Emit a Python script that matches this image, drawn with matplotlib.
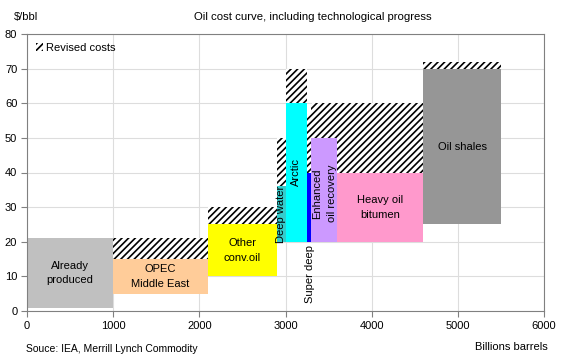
import matplotlib
matplotlib.use("Agg")
import matplotlib.pyplot as plt
import matplotlib.patches as patches

plt.rcParams['font.family'] = ['Liberation Sans', 'DejaVu Sans']
plt.rcParams['hatch.linewidth'] = 1.2
plt.rcParams['hatch.color'] = 'black'

# oil cost curve data (billions barrels, $/bbl)
names = ['Already\nproduced', 'OPEC\nMiddle East', 'Other\nconv.oil', 'Deep water', 'Arctic',
         'Super deep', 'Enhanced\noil recovery', 'Heavy oil\nbitumen', 'Oil shales']
x_start = [0, 1000, 2100, 2900, 3000, 3250, 3300, 3600, 4600]
x_end = [1000, 2100, 2900, 3000, 3250, 3300, 3600, 4600, 5500]
cost_low = [1, 5, 10, 20, 20, 20, 20, 20, 25]
cost_high = [21, 15, 25, 36, 60, 40, 50, 40, 70]
revised_high = [21, 21, 30, 50, 70, 57, 60, 60, 72]
colors = ['#C0C0C0', '#FFCC99', '#FFFF00', '#33CCCC', '#00FFFF', '#0000FF', '#CC99FF', '#FF99CC', '#969696']

x_ticks = [0, 1000, 2000, 3000, 4000, 5000, 6000]
y_ticks = [0, 10, 20, 30, 40, 50, 60, 70, 80]

fig = plt.figure(figsize=(5.63, 3.63), dpi=100)
ax = fig.add_axes([27/563, 1-311/363, 517/563, 277/363])

widths = [e - s for s, e in zip(x_start, x_end)]
heights = [h - l for l, h in zip(cost_low, cost_high)]
rev_heights = [r - h for h, r in zip(cost_high, revised_high)]

ax.bar(x_start, heights, width=widths, bottom=cost_low, align='edge',
       color=colors, edgecolor='none', zorder=2)
ax.bar(x_start, rev_heights, width=widths, bottom=cost_high, align='edge',
       color='white', edgecolor='black', linewidth=0, hatch='/////', zorder=2)

# labels
fs = 8
for i, name in enumerate(names):
    cx = (x_start[i] + x_end[i]) / 2
    cy = (cost_low[i] + cost_high[i]) / 2
    if name == 'Deep water':
        ax.text(cx, cy, name, rotation=90, ha='center', va='center', fontsize=fs, zorder=3)
    elif name == 'Arctic':
        ax.text(cx, 40, name, rotation=90, ha='center', va='center', fontsize=fs, zorder=3)
    elif name == 'Super deep':
        ax.text(cx + 10, cost_low[i] - 1, name, rotation=90, ha='center', va='top', fontsize=fs, zorder=3)
    elif name.startswith('Enhanced'):
        ax.text(cx, 34, name, rotation=90, ha='center', va='center', fontsize=fs, zorder=3,
                multialignment='center', linespacing=1.6)
    else:
        ax.text(cx, cy, name, ha='center', va='center', fontsize=fs, zorder=3,
                multialignment='center', linespacing=1.6)

ax.set_xlim(0, 6000)
ax.set_ylim(0, 80)
ax.set_xticks(x_ticks)
ax.set_yticks(y_ticks)
ax.grid(True, color='#DDDDDD', linewidth=0.8, zorder=0)
ax.set_axisbelow(True)
for sp in ax.spines.values():
    sp.set_color('#808080')
ax.tick_params(axis='both', direction='out', length=4, color='#808080', labelsize=fs, pad=3)

# legend
handle = patches.Patch(facecolor='white', edgecolor='black', hatch='/////', linewidth=0)
ax.legend([handle], ['Revised costs'], loc='upper left', frameon=False, fontsize=fs,
          handlelength=0.6, handleheight=0.6, handletextpad=0.3, borderaxespad=0.4)

fig.text(14/563, 1-17/363, '$/bbl', fontsize=fs, va='center', ha='left')
fig.text(313/563, 1-17/363, 'Oil cost curve, including technological progress', fontsize=8.2,
         va='center', ha='center')
fig.text(26/563, 1-349/363, 'Souce: IEA, Merrill Lynch Commodity', fontsize=7.5, va='center', ha='left')
fig.text(548/563, 1-347/363, 'Billions barrels', fontsize=fs, va='center', ha='right')

fig.savefig('out.png', dpi=100)
